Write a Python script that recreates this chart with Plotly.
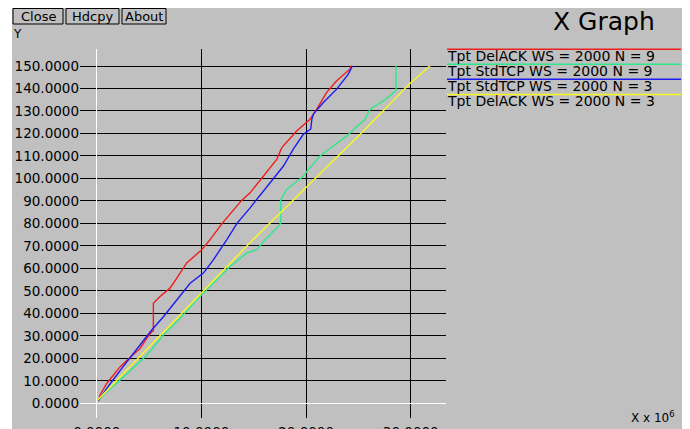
import plotly.graph_objects as go

# ---------------- data (x in units of 1e6) ----------------
red_x = [0.2, 0.3, 0.95, 2.22, 3.18, 4.13, 4.78, 5.25, 5.41, 5.41, 6.05, 7.0, 7.65, 8.28, 8.6, 10.03,
         10.83, 11.99, 12.9, 13.8, 14.65, 15.93, 17.2, 17.68, 19.1, 20.38, 21.02, 21.97, 22.93, 24.21, 24.3]
red_y = [1.3, 3.6, 8.8, 16.2, 20.4, 24.4, 28.9, 31.8, 32.2, 44.5, 47.5, 51.2, 55.7, 60.1, 62.4, 68.3,
         72.8, 80, 85, 90, 93.6, 101, 108.5, 113.7, 121.1, 126.3, 130.8, 138.3, 143.4, 148.7, 150.1]

green_x = [0.1, 0.8, 2.22, 4.78, 6.37, 7.96, 9.56, 11.14, 12.74, 14.32, 15.29, 15.93, 17.36, 17.58, 17.58,
           18.15, 19.74, 20.22, 21.33, 22.6, 23.88, 25.63, 26.12, 27.38, 28.5, 28.6, 28.6]
green_y = [1, 4.5, 10.3, 21.4, 30.4, 37.8, 46, 53.4, 60.8, 66.8, 68.3, 72, 78.7, 80.2, 90.6,
           95.1, 101, 104, 110, 114.4, 118.9, 126.3, 130.8, 134.5, 138.3, 139, 150.1]

blue_x = [0.1, 0.3, 1.3, 2.5, 3.5, 5.25, 6.37, 7.65, 8.92, 10.19, 11.14, 12.43, 13.4, 14.65, 15.29,
          16.56, 17.84, 18.78, 19.74, 20.45, 20.55, 20.7, 21.65, 22.93, 24.04, 24.37, 24.42]
blue_y = [1, 2.4, 8.8, 16.2, 22.2, 32.6, 38.5, 46, 53.4, 57.9, 63.8, 72.8, 80, 86.9, 90.6,
          98.1, 105.5, 113, 119.6, 122, 126.3, 128.6, 133.8, 139.7, 146.4, 149.4, 150.1]

yellow_x = [0, 4.73, 10.0, 14.94, 20.12, 25.15, 29.88, 31.84]
yellow_y = [1, 23.5, 49, 72.8, 96.5, 119.5, 142, 150.1]

series_names = ["Tpt DelACK WS = 2000 N = 9", "Tpt StdTCP WS = 2000 N = 9",
                "Tpt StdTCP WS = 2000 N = 3", "Tpt DelACK WS = 2000 N = 3"]
series_colors = ["#f01c1c", "#2ee88a", "#1c1cf0", "#f8f820"]

y_ticks = list(range(0, 151, 10))
y_ticklabels = [f"{v}.0000" for v in y_ticks]
x_ticks = [0, 10, 20, 30]
x_ticklabels = ["0.0000", "10.0000", "20.0000", "30.0000"]

buttons = ["Close", "Hdcpy", "About"]

# ---------------- layout geometry (window pixels) ----------------
WIN_W, WIN_H = 690, 429
OFF = 8                       # default page body margin
W, H = 682 - OFF, WIN_H - OFF  # figure size
L, R, T, B = 80, 446, 49, 418  # plot area in window pixels
BG = "#c0c0c0"
FONT = "DejaVu Sans"


def px(x):
    return (x - L) / (R - L)


def py(y):
    return (B - y) / (B - T)


fig = go.Figure()
for xs, ys, name, col in zip([red_x, green_x, blue_x, yellow_x], [red_y, green_y, blue_y, yellow_y],
                             series_names, series_colors):
    fig.add_trace(go.Scatter(x=xs, y=ys, mode="lines", name=name,
                             line=dict(color=col, width=1.4), showlegend=False))

shapes = []
annotations = []

# extra white strip on the left
shapes.append(dict(type="rect", xref="paper", yref="paper", x0=px(OFF), x1=px(12), y0=py(WIN_H), y1=py(OFF),
                   fillcolor="white", line=dict(width=0), layer="above"))

# buttons
btn_boxes = [(13, 63), (66, 119), (122, 166)]
for label, (bx0, bx1) in zip(buttons, btn_boxes):
    shapes.append(dict(type="rect", xref="paper", yref="paper", x0=px(bx0), x1=px(bx1), y0=py(24), y1=py(8.5),
                       fillcolor=BG, line=dict(color="black", width=1), layer="above"))
    annotations.append(dict(text=label, xref="paper", yref="paper", x=px((bx0 + bx1) / 2), y=py(16.5),
                            xanchor="center", yanchor="middle", showarrow=False,
                            font=dict(family=FONT, size=13, color="black")))

# captions
annotations.append(dict(text="Y", xref="paper", yref="paper", x=px(17), y=py(34), xanchor="center",
                        yanchor="middle", showarrow=False, font=dict(family=FONT, size=12, color="black")))
annotations.append(dict(text="X Graph", xref="paper", yref="paper", x=px(604), y=py(21), xanchor="center",
                        yanchor="middle", showarrow=False, font=dict(family=FONT, size=25, color="black")))
annotations.append(dict(text="X x 10<sup>6</sup>", xref="paper", yref="paper", x=px(629), y=py(417),
                        xanchor="left", yanchor="middle", showarrow=False,
                        font=dict(family=FONT, size=12, color="black")))

# legend (line above text, xgraph style)
leg_y = [49.3, 64.3, 79.3, 94.5]
for name, col, ly in zip(series_names, series_colors, leg_y):
    shapes.append(dict(type="line", xref="paper", yref="paper", x0=px(447), x1=px(681), y0=py(ly), y1=py(ly),
                       line=dict(color=col, width=1.5), layer="above"))
    annotations.append(dict(text=name, xref="paper", yref="paper", x=px(445), y=py(ly + 6.5),
                            xanchor="left", yanchor="middle", showarrow=False,
                            font=dict(family=FONT, size=14, color="black")))

fig.update_layout(
    width=W, height=H,
    margin=dict(l=L - OFF, r=(W + OFF) - R, t=T - OFF, b=(H + OFF) - B, pad=0),
    paper_bgcolor=BG, plot_bgcolor=BG,
    showlegend=False,
    shapes=shapes, annotations=annotations,
    font=dict(family=FONT, size=13, color="black"),
)
fig.update_xaxes(range=[-1.6, 33.37], tickvals=x_ticks, ticktext=x_ticklabels, showgrid=True,
                 gridcolor="black", gridwidth=1, zeroline=True, zerolinecolor="white", zerolinewidth=1,
                 showline=False, ticks="", automargin=False, ticklabelstandoff=4,
                 tickfont=dict(family=FONT, size=13.5, color="black"))
fig.update_yaxes(range=[-6.54, 157.56], tickvals=y_ticks, ticktext=y_ticklabels, showgrid=True,
                 gridcolor="black", gridwidth=1, zeroline=True, zerolinecolor="white", zerolinewidth=1,
                 showline=False, ticks="", automargin=False, ticklabelstandoff=0,
                 tickfont=dict(family=FONT, size=13.5, color="black"))

fig.write_html("out.html")
